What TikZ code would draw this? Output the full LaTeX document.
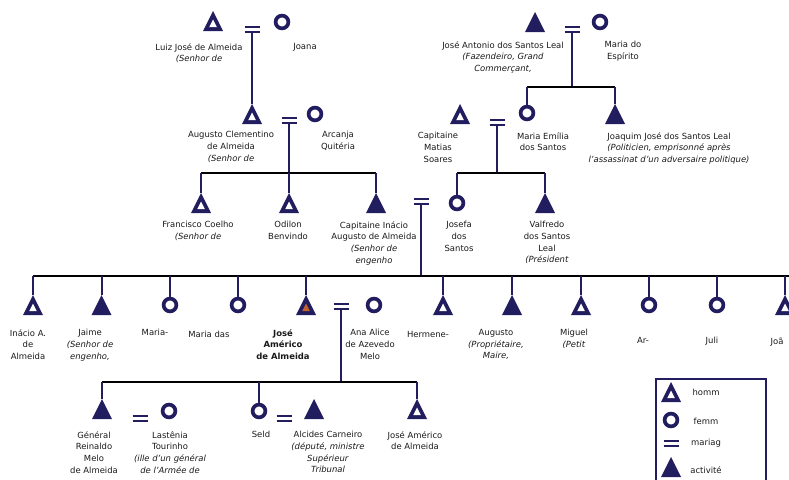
\documentclass[tikz,border=0pt]{standalone}
\usepackage{fontspec}
\setmainfont{DejaVu Sans}
\usetikzlibrary{calc}
\definecolor{navy}{RGB}{33,29,94}
\definecolor{orng}{RGB}{196,98,45}
\definecolor{txt}{RGB}{25,25,25}
% hollow male: name, x, apex y
\newcommand\persH[3]{\coordinate (#1) at (#2,#3);
  \fill[navy] (#1) -- ++(10,20) -- ++(-20,0) -- cycle;
  \fill[white] ($(#1)+(0,8.5)$) -- ++(3.85,7.7) -- ++(-7.7,0) -- cycle;}
% filled (activity) male
\newcommand\persA[3]{\coordinate (#1) at (#2,#3);
  \fill[navy] (#1) -- ++(10,20) -- ++(-20,0) -- cycle;}
% ego
\newcommand\persE[3]{\coordinate (#1) at (#2,#3);
  \fill[navy] (#1) -- ++(10,20) -- ++(-20,0) -- cycle;
  \fill[orng] ($(#1)+(0,8.5)$) -- ++(3.85,7.7) -- ++(-7.7,0) -- cycle;}
% marriage sign: name, x, y of lower line
\newcommand\marr[3]{\coordinate (#1) at (#2,#3);
  \draw[mline] ($(#1)+(-7.5,-5)$) -- ++(15,0);
  \draw[mline] ($(#1)+(-7.5,0)$) -- ++(15,0);}
\begin{document}
\begin{tikzpicture}[x=1pt,y=-1pt,
 lab/.style={anchor=north, yshift=3.7pt, align=center, inner sep=0pt, font=\fontsize{8.45}{11.6}\selectfont, text=txt},
 fem/.style={circle, draw=navy, line width=3.7pt, minimum size=12.8pt, inner sep=0pt},
 conn/.style={draw=navy, line width=2pt},
 bar/.style={draw=black, line width=2pt},
 mline/.style={draw=navy, line width=1.8pt},
]
\useasboundingbox (0,0) rectangle (789,479);

% ---------- generation 0 ----------
\persH{luiz}{213}{11}
\node[fem] (joana) at (282,22) {};
\marr{m0a}{252}{32}
\persA{joseant}{535}{12}
\node[fem] (mariaesp) at (600,22) {};
\marr{m0b}{572}{32}
\coordinate (b0b) at (0,87);

\node[lab] (luizl) at (199,47) {Luiz José de Almeida\\\textit{(Senhor de}};
\node[lab] (joanal) at (305,47) {Joana};
\node[lab] (joseantl) at (503,45) {José Antonio dos Santos Leal\\\textit{(Fazendeiro, Grand}\\\textit{Commerçant,}};
\node[lab] (mariaespl) at (623,45) {Maria do\\Espírito};

% ---------- generation 1 ----------
\persH{augusto}{252}{104}
\node[fem] (arcanja) at (315,114) {};
\marr{m1a}{289}{123}
\coordinate (b1a) at (0,173);
\persH{matias}{460}{104}
\marr{m1b}{497}{125}
\coordinate (b1b) at (0,173);
\node[fem] (mariaem) at (527,113) {};
\persA{joaquim}{615}{104}

\draw[conn] (m0a) -- (augusto);
\draw[conn] (m0b) -- (m0b |- b0b);
\draw[bar] (mariaem |- b0b) -- (joaquim |- b0b);
\draw[conn] (mariaem |- b0b) -- (mariaem.north);
\draw[conn] (joaquim |- b0b) -- (joaquim);

\node[lab] (augustol) at (231,135) {Augusto Clementino\\de Almeida\\\textit{(Senhor de}};
\node[lab] (arcanjal) at (338,135) {Arcanja\\Quitéria};
\node[lab] (matiasl) at (438,136) {Capitaine\\Matias\\Soares};
\node[lab] (mariaeml) at (543,136) {Maria Emília\\dos Santos};
\node[lab] (joaquiml) at (669,136) {Joaquim José dos Santos Leal\\\textit{(Politicien, emprisonné après}\\\textit{l'assassinat d'un adversaire politique)}};

% ---------- generation 2 ----------
\persH{francisco}{201}{193}
\persH{odilon}{289}{193}
\persA{inacio}{376}{193}
\marr{m2}{421}{204}
\node[fem] (josefa) at (457,203) {};
\persA{valfredo}{545}{193}
\coordinate (b2) at (0,276);

\draw[conn] (m1a) -- (m1a |- b1a);
\draw[bar] (francisco |- b1a) -- (inacio |- b1a);
\foreach \k in {francisco,odilon,inacio} \draw[conn] (\k |- b1a) -- (\k);
\draw[conn] (m1b) -- (m1b |- b1b);
\draw[bar] (josefa |- b1b) -- (valfredo |- b1b);
\draw[conn] (josefa |- b1b) -- (josefa.north);
\draw[conn] (valfredo |- b1b) -- (valfredo);

\node[lab] (franciscol) at (198,225) {Francisco Coelho\\\textit{(Senhor de}};
\node[lab] (odilonl) at (288,225) {Odilon\\Benvindo};
\node[lab] (inaciol) at (374,225) {Capitaine Inácio\\Augusto de Almeida\\\textit{(Senhor de}\\\textit{engenho}};
\node[lab] (josefal) at (459,225) {Josefa\\dos\\Santos};
\node[lab] (valfredol) at (547,225) {Valfredo\\dos Santos\\Leal\\\textit{(Président}};

% ---------- generation 3 ----------
\persH{inacioa}{33}{295}
\persA{jaime}{101.5}{295}
\node[fem] (mariaa) at (170,305) {};
\node[fem] (mariadas) at (238,305) {};
\persE{jose}{306}{295}
\marr{m3}{341}{309}
\node[fem] (anaalice) at (374,305) {};
\persH{hermene}{443}{295}
\persA{augustob}{512}{295}
\persH{miguel}{581}{295}
\node[fem] (ar) at (649,305) {};
\node[fem] (juli) at (717,305) {};
\persH{joa}{785}{295}
\coordinate (b3) at (0,382);

\draw[conn] (m2) -- (m2 |- b2);
\draw[bar] (inacioa |- b2) -- (789,276);
\foreach \k in {inacioa,jaime,jose,hermene,augustob,miguel,joa} \draw[conn] (\k |- b2) -- (\k);
\foreach \k in {mariaa,mariadas,ar,juli} \draw[conn] (\k |- b2) -- (\k.north);

\node[lab] (inacioal) at (28,333) {Inácio A.\\de\\Almeida};
\node[lab] (jaimel) at (90,333) {Jaime\\\textit{(Senhor de}\\\textit{engenho,}};
\node[lab] (mariaal) at (155,333) {Maria-};
\node[lab] (mariadasl) at (209,335) {Maria das};
\node[lab, font=\fontsize{8.45}{11.6}\selectfont\bfseries] (josel) at (283,333) {José\\Américo\\de Almeida};
\node[lab] (anaalicel) at (370,333) {Ana Alice\\de Azevedo\\Melo};
\node[lab] (hermenel) at (428,335) {Hermene-};
\node[lab] (augustobl) at (496,333) {Augusto\\\textit{(Propriétaire,}\\\textit{Maire,}};
\node[lab] (miguell) at (574,333) {Miguel\\\textit{(Petit}};
\node[lab] (arl) at (643,341) {Ar-};
\node[lab] (julil) at (712,341) {Juli};
\node[lab] (joal) at (777,341) {Joã};

% ---------- generation 4 ----------
\persA{general}{102}{399}
\marr{m4a}{140}{421}
\node[fem] (lastenia) at (169,411) {};
\node[fem] (seld) at (259,411) {};
\marr{m4b}{284}{421}
\persA{alcides}{314}{399}
\persH{joseam}{417}{399}

\draw[conn] (m3) -- (m3 |- b3);
\draw[bar] (general |- b3) -- (joseam |- b3);
\foreach \k in {general,joseam} \draw[conn] (\k |- b3) -- (\k);
\draw[conn] (seld |- b3) -- (seld.north);

\node[lab] (generall) at (94,435) {Général\\Reinaldo\\Melo\\de Almeida};
\node[lab] (lastenial) at (170,435) {Lastênia\\Tourinho\\\textit{(ille d'un général}\\\textit{de l'Armée de}};
\node[lab] (seldl) at (261,435) {Seld};
\node[lab] (alcidesl) at (328,435) {Alcides Carneiro\\\textit{(député, ministre}\\\textit{Supérieur}\\\textit{Tribunal}};
\node[lab] (joseaml) at (415,435) {José Américo\\de Almeida};

% ---------- legend ----------
\node[draw=navy, line width=1.8pt, minimum width=110pt, minimum height=130pt, anchor=north west, inner sep=0pt] (legend) at (655,378) {};
\persH{lgh}{671}{382}
\node[fem] (lgf) at (671,420) {};
\marr{lgm}{671}{446}
\persA{lga}{671}{457}
\node[lab] (lghl) at (706,393) {homm};
\node[lab] (lgfl) at (706,422) {femm};
\node[lab] (lgml) at (706,443) {mariag};
\node[lab] (lgal) at (706,470) {activité};
\end{tikzpicture}
\end{document}
